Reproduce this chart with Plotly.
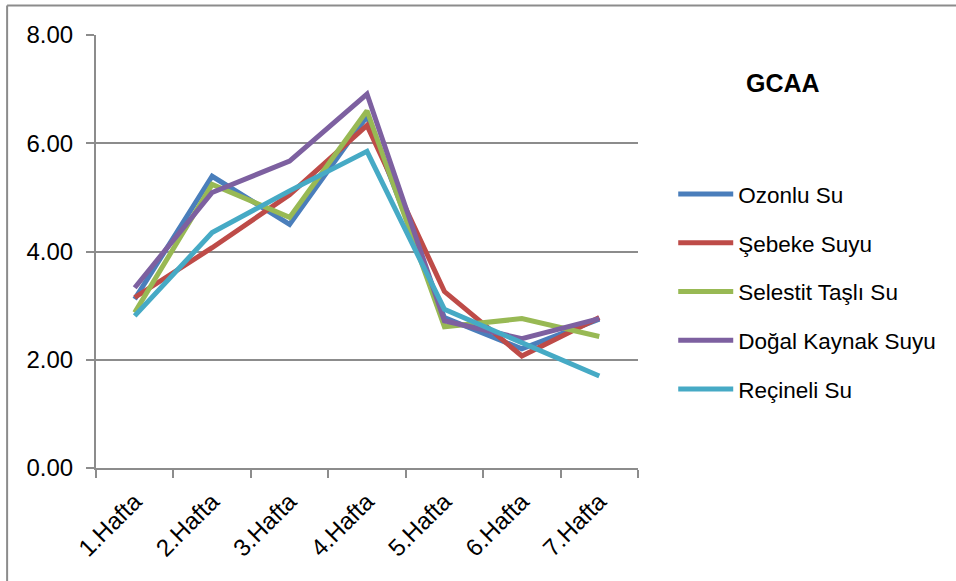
import plotly.graph_objects as go

categories = ["1.Hafta", "2.Hafta", "3.Hafta", "4.Hafta", "5.Hafta", "6.Hafta", "7.Hafta"]
ozonlu = [3.12, 5.39, 4.50, 6.50, 2.78, 2.20, 2.75]
sebeke = [3.15, 4.07, 5.05, 6.33, 3.26, 2.07, 2.78]
selestit = [2.87, 5.24, 4.63, 6.60, 2.61, 2.76, 2.43]
dogal = [3.33, 5.09, 5.67, 6.91, 2.72, 2.39, 2.76]
recineli = [2.81, 4.35, 5.12, 5.85, 2.93, 2.31, 1.70]

series_names = ["Ozonlu Su", "Şebeke Suyu", "Selestit Taşlı Su", "Doğal Kaynak Suyu", "Reçineli Su"]
series_values = [ozonlu, sebeke, selestit, dogal, recineli]
colors = ["#4A7EBB", "#BE4B48", "#98B954", "#7D60A0", "#46AAC5"]
y_ticks = [0, 2, 4, 6, 8]

font_family = "Liberation Sans, Arial, sans-serif"

fig = go.Figure()
for i, (name, vals) in enumerate(zip(series_names, series_values)):
    fig.add_trace(go.Scatter(
        x=categories, y=vals, name=name, mode="lines",
        line=dict(color=colors[i], width=5),
        legendgroup="g%d" % i,
    ))

fig.update_layout(
    width=956, height=581,
    margin=dict(l=96, r=318, t=35, b=113),
    paper_bgcolor="white", plot_bgcolor="white",
    font=dict(family=font_family, color="black", size=23),
    showlegend=True,
    legend=dict(
        x=1.065, y=0.6815, xanchor="left", yanchor="top",
        font=dict(size=22.5, family=font_family),
        tracegroupgap=16.5, itemwidth=55,
        bgcolor="rgba(0,0,0,0)",
    ),
    xaxis=dict(
        type="category", range=[-0.5, 6.5],
        showgrid=False, showline=True, linecolor="#8C8C8C", linewidth=2,
        ticks="outside", ticklen=8, tickcolor="#8C8C8C", tickwidth=2,
        tickson="boundaries", tickangle=-45, ticklabelstandoff=8,
        tickfont=dict(size=24, family=font_family),
        fixedrange=True,
    ),
    yaxis=dict(
        range=[0, 8], tickvals=y_ticks, ticktext=["%.2f" % v for v in y_ticks],
        showgrid=True, gridcolor="#8C8C8C", gridwidth=2,
        showline=True, linecolor="#8C8C8C", linewidth=2,
        ticks="outside", ticklen=8, tickcolor="#8C8C8C", tickwidth=2,
        ticklabelstandoff=8,
        tickfont=dict(size=24, family=font_family),
        zeroline=False, fixedrange=True,
    ),
    annotations=[dict(
        text="<b>GCAA</b>", x=1.2675, y=0.889, xref="paper", yref="paper",
        xanchor="center", yanchor="middle",
        showarrow=False, font=dict(size=25, family=font_family, color="black"),
    )],
    shapes=[
        dict(type="line", xref="paper", yref="paper", x0=-0.164, x1=1.6, y0=1.068, y1=1.068,
             line=dict(color="#8C8C8C", width=2)),
        dict(type="line", xref="paper", yref="paper", x0=-0.164, x1=-0.164, y0=1.068, y1=-0.3,
             line=dict(color="#8C8C8C", width=2)),
    ],
)

fig.write_html("out.html", config={"displayModeBar": False},
               post_script="document.body.style.margin='0';")
